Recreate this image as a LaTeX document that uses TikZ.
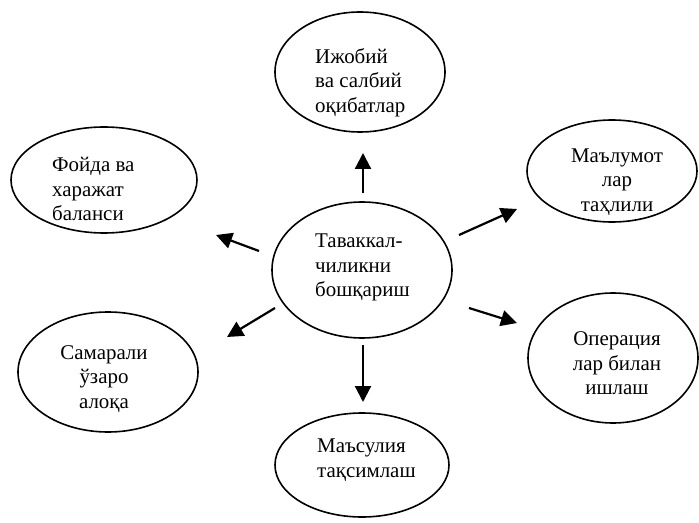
\documentclass[tikz,border=0pt]{standalone}
\usepackage{fontspec}
\setmainfont{Liberation Serif}
\usetikzlibrary{shapes.geometric,arrows.meta}
\begin{document}
\begin{tikzpicture}[x=1bp,y=-1bp,
  oval/.style={draw,ellipse,line width=1.6bp,inner sep=0pt},
  lbl/.style={inner sep=0pt,font=\fontsize{21}{24.5}\selectfont},
  arr/.style={line width=2.2bp,-{Triangle[length=16bp,width=16bp]}}]
\useasboundingbox (0,0) rectangle (699,523);
% ellipses
\node[oval,minimum width=170bp,minimum height=120bp] (eT) at (360,72) {};
\node[oval,minimum width=186bp,minimum height=106bp] (eL) at (104,180) {};
\node[oval,minimum width=170bp,minimum height=102bp] (eR) at (612,171) {};
\node[oval,minimum width=180bp,minimum height=136bp] (eC) at (362,270) {};
\node[oval,minimum width=180bp,minimum height=120bp] (eLB) at (108,372) {};
\node[oval,minimum width=170bp,minimum height=130bp] (eRB) at (613,358) {};
\node[oval,minimum width=174bp,minimum height=104bp] (eB) at (362,465) {};
% texts
\node[lbl,anchor=west,align=left] (tT) at (315,82.5) {Ижобий\\ва салбий\\оқибатлар};
\node[lbl,anchor=west,align=left] (tL) at (52,189) {Фойда ва\\харажат\\баланси};
\node[lbl,align=center] (tR) at (617,182) {Маълумот\\лар\\таҳлили};
\node[lbl,anchor=west,align=left] (tC) at (315,267.5) {Таваккал-\\чиликни\\бошқариш};
\node[lbl,align=center] (tLB) at (104,379) {Самарали\\ўзаро\\алоқа};
\node[lbl,align=center] (tRB) at (617,363.5) {Операция\\лар билан\\ишлаш};
\node[lbl,anchor=west,align=left] (tB) at (317,460) {Маъсулия\\тақсимлаш};
% arrow end points
\coordinate (aU1) at (363,193); \coordinate (aU2) at (363,153);
\coordinate (aUR1) at (459,235); \coordinate (aUR2) at (517,209);
\coordinate (aUL1) at (259,251); \coordinate (aUL2) at (216,235);
\coordinate (aLL1) at (275,308); \coordinate (aLL2) at (227,337);
\coordinate (aLR1) at (469,308); \coordinate (aLR2) at (517,323);
\coordinate (aD1) at (363,345); \coordinate (aD2) at (363,402);
\draw[arr] (aU1) -- (aU2);
\draw[arr] (aUR1) -- (aUR2);
\draw[arr] (aUL1) -- (aUL2);
\draw[arr] (aLL1) -- (aLL2);
\draw[arr] (aLR1) -- (aLR2);
\draw[arr] (aD1) -- (aD2);
\end{tikzpicture}
\end{document}
